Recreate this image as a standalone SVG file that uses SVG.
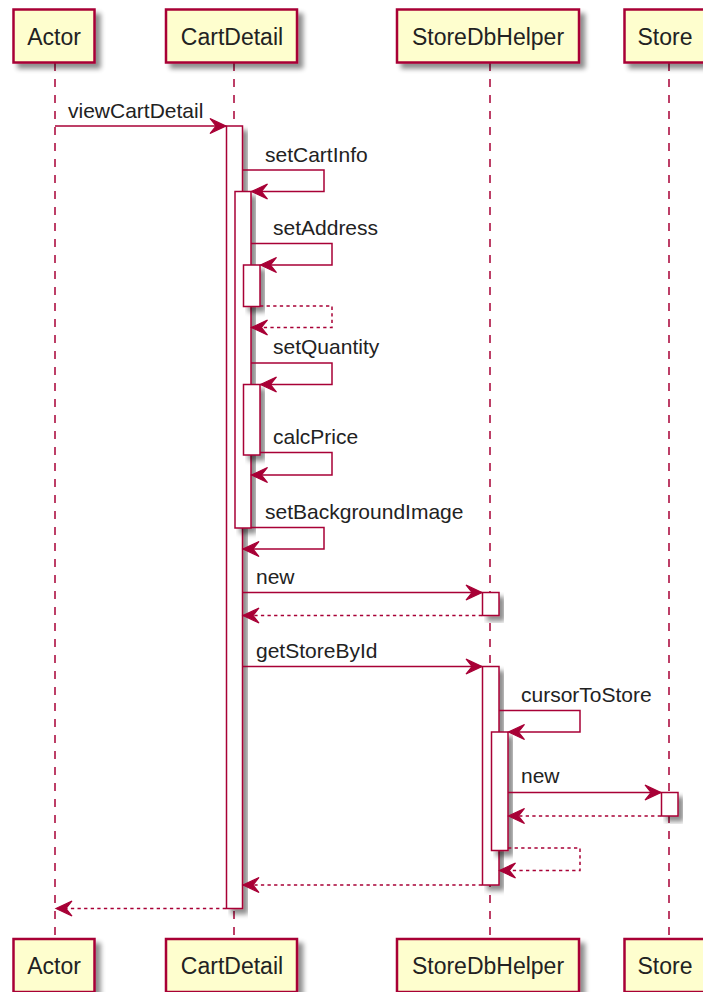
<svg xmlns="http://www.w3.org/2000/svg" width="703" height="992" viewBox="0 0 703 992">
<defs>
<filter id="sh" x="-20%" y="-20%" width="150%" height="150%">
<feGaussianBlur in="SourceAlpha" stdDeviation="2.5"/>
<feOffset dx="5" dy="5" result="b"/>
<feComponentTransfer><feFuncA type="linear" slope="0.45"/></feComponentTransfer>
<feMerge><feMergeNode/><feMergeNode in="SourceGraphic"/></feMerge>
</filter>
<marker id="ah" markerWidth="20" markerHeight="20" viewBox="-18 -9 20 18" refX="0" refY="0" orient="auto" markerUnits="userSpaceOnUse">
<polygon points="0,0 -16,-7.5 -10,0 -16,7.5" fill="#A80036" stroke="#A80036" stroke-width="1.2" stroke-linejoin="miter"/>
</marker>
</defs>
<style>
.pb{fill:#FEFECE;stroke:#A80036;stroke-width:2.5;}
.pt{font-family:"Liberation Sans",Arial,sans-serif;font-size:23px;fill:#222;text-anchor:middle;}
.ll{stroke:#A80036;stroke-width:1.5;stroke-dasharray:8,8;fill:none;}
.act{fill:#FFFFFF;stroke:#A80036;stroke-width:1.5;}
.m{stroke:#A80036;stroke-width:1.5;fill:none;marker-end:url(#ah);}
.r{stroke:#A80036;stroke-width:1.5;fill:none;stroke-dasharray:3.3,3.3;marker-end:url(#ah);}
.ml{font-family:"Liberation Sans",Arial,sans-serif;font-size:21px;fill:#222;}
</style>
<rect width="703" height="992" fill="#FFFFFF"/>
<g id="lifelines">
<line class="ll" x1="55" y1="63" x2="55" y2="938"/>
<line class="ll" x1="234" y1="63" x2="234" y2="938"/>
<line class="ll" x1="490" y1="63" x2="490" y2="938"/>
<line class="ll" x1="669" y1="63" x2="669" y2="938"/>
</g>
<g id="Actor">
<rect class="pb" x="13.5" y="9.5" width="81" height="53" filter="url(#sh)"/>
<text class="pt" x="54" y="44.5">Actor</text>
<rect class="pb" x="13.5" y="939" width="81" height="53" filter="url(#sh)"/>
<text class="pt" x="54" y="974">Actor</text>
</g>
<g id="CartDetail">
<rect class="pb" x="166" y="9.5" width="131" height="53" filter="url(#sh)"/>
<text class="pt" x="232" y="44.5">CartDetail</text>
<rect class="pb" x="166" y="939" width="131" height="53" filter="url(#sh)"/>
<text class="pt" x="232" y="974">CartDetail</text>
</g>
<g id="StoreDbHelper">
<rect class="pb" x="397" y="9.5" width="182" height="53" filter="url(#sh)"/>
<text class="pt" x="488" y="44.5">StoreDbHelper</text>
<rect class="pb" x="397" y="939" width="182" height="53" filter="url(#sh)"/>
<text class="pt" x="488" y="974">StoreDbHelper</text>
</g>
<g id="Store">
<rect class="pb" x="624.5" y="9.5" width="90" height="53" filter="url(#sh)"/>
<text class="pt" x="665" y="44.5">Store</text>
<rect class="pb" x="624.5" y="939" width="90" height="53" filter="url(#sh)"/>
<text class="pt" x="665" y="974">Store</text>
</g>
<g id="activations">
<rect class="act" x="226.5" y="126" width="16" height="782.5" filter="url(#sh)"/>
<rect class="act" x="235" y="191.5" width="16" height="336.5" filter="url(#sh)"/>
<rect class="act" x="243.5" y="265" width="16.5" height="41.5" filter="url(#sh)"/>
<rect class="act" x="243.5" y="384.5" width="16.5" height="70.5" filter="url(#sh)"/>
<rect class="act" x="482.5" y="592.5" width="16.5" height="23" filter="url(#sh)"/>
<rect class="act" x="482.5" y="666.5" width="16.5" height="218.5" filter="url(#sh)"/>
<rect class="act" x="491.5" y="732" width="16.5" height="118.5" filter="url(#sh)"/>
<rect class="act" x="661.5" y="792.5" width="16.5" height="23.5" filter="url(#sh)"/>
</g>
<g id="connectors">
<path class="m" d="M55,126 H226"/>
<path class="m" d="M242.5,170 H324 V191.5 H251.5"/>
<path class="m" d="M251,243.5 H332 V265 H260.5"/>
<path class="r" d="M260,306 H332 V327.5 H251.5"/>
<path class="m" d="M251,363 H332 V384.5 H260.5"/>
<path class="m" d="M260,452.5 H332 V475 H251.5"/>
<path class="m" d="M251,527.5 H324 V549 H243"/>
<path class="m" d="M242.5,592.5 H482"/>
<path class="r" d="M482,615.5 H243"/>
<path class="m" d="M242.5,666.5 H482"/>
<path class="m" d="M499,710.5 H580 V732 H508.5"/>
<path class="m" d="M508,792.5 H661"/>
<path class="r" d="M661,816 H508.5"/>
<path class="r" d="M508,848 H580 V870.5 H499.5"/>
<path class="r" d="M482,885 H243"/>
<path class="r" d="M226,908.5 H56"/>
</g>
<g id="labels">
<text class="ml" x="68" y="117.5">viewCartDetail</text>
<text class="ml" x="265" y="161.5">setCartInfo</text>
<text class="ml" x="273" y="235">setAddress</text>
<text class="ml" x="273" y="354">setQuantity</text>
<text class="ml" x="273" y="444">calcPrice</text>
<text class="ml" x="265" y="518.5">setBackgroundImage</text>
<text class="ml" x="256" y="583.5">new</text>
<text class="ml" x="256" y="658">getStoreById</text>
<text class="ml" x="521" y="701.5">cursorToStore</text>
<text class="ml" x="521" y="783">new</text>
</g>
</svg>
